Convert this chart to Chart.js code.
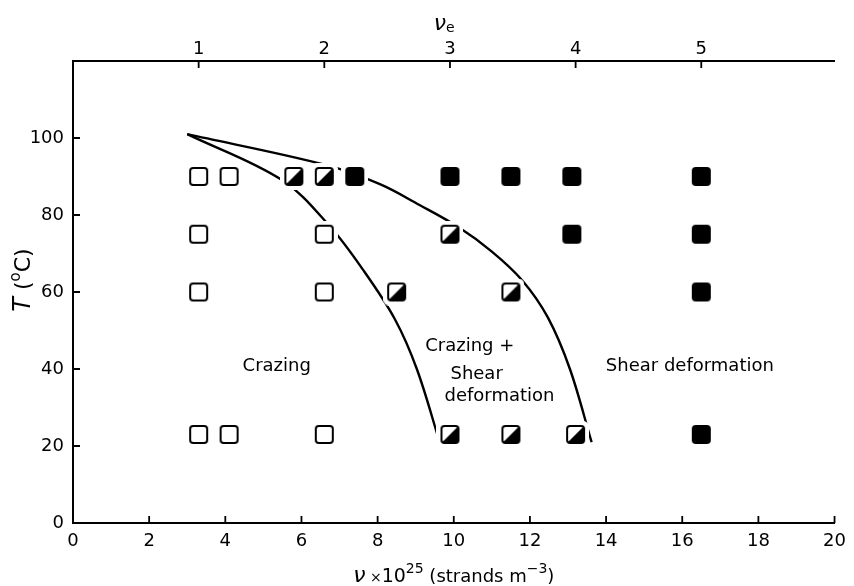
<!DOCTYPE html>
<html>
<head>
<meta charset="utf-8">
<script src="https://cdn.jsdelivr.net/npm/chart.js@4.4.1/dist/chart.umd.min.js"></script>
<style>
  html, body { margin: 0; padding: 0; background: #fff; }
  #wrap { width: 854px; height: 586px; }
</style>
</head>
<body>
<div id="wrap"><canvas id="chart"></canvas></div>
<script>
// open squares: crazing only
const crazingNu = [3.3, 4.1, 3.3, 6.6, 3.3, 6.6, 3.3, 4.1, 6.6];
const crazingT  = [90, 90, 75, 75, 60, 60, 23, 23, 23];
// half-filled squares: crazing + shear
const mixedNu = [5.8, 6.6, 9.9, 8.5, 11.5, 9.9, 11.5, 13.2];
const mixedT  = [90, 90, 75, 60, 60, 23, 23, 23];
// filled squares: shear deformation only
const shearNu = [7.4, 9.9, 11.5, 13.1, 16.5, 13.1, 16.5, 16.5, 16.5];
const shearT  = [90, 90, 90, 90, 90, 75, 75, 60, 23];

// boundary curves
const lowerNu = [3.0, 5.5, 6.75, 7.6, 8.45, 9.03, 9.63];
const lowerT  = [101, 89, 77, 66, 53, 40, 21];
const upperNu = [3.0, 6.64, 8.06, 9.1, 10.1, 11.0, 11.8, 12.47, 13.05, 13.62];
const upperT  = [101, 93, 88, 82.6, 77, 70.5, 63, 53.4, 40, 21];

// axes
const nuTicks  = [0, 2, 4, 6, 8, 10, 12, 14, 16, 18, 20];
const tTicks   = [0, 20, 40, 60, 80, 100];
const nueTicks = [1, 2, 3, 4, 5];
const nuPerNue = 3.3;   // nu (x10^25) per unit of nu_e

// region labels
const regionText = ['Crazing', 'Crazing +', 'Shear', 'deformation', 'Shear deformation'];
const regionNu   = [5.35, 10.42, 10.6, 11.2, 16.2];
const regionT    = [40.6, 45.8, 38.5, 32.8, 40.6];

const FONT = 'DejaVu Sans';
Chart.defaults.font.family = FONT;
Chart.defaults.font.size = 18;
Chart.defaults.color = '#000';

const toPts = (xs, ys) => xs.map((x, i) => ({ x: x, y: ys[i] }));

function rr(g, x, y, w, h, r) {
  g.beginPath();
  g.moveTo(x + r, y);
  g.arcTo(x + w, y, x + w, y + h, r);
  g.arcTo(x + w, y + h, x, y + h, r);
  g.arcTo(x, y + h, x, y, r);
  g.arcTo(x, y, x + w, y, r);
  g.closePath();
}

// square markers with a white halo so the curves break around them
function makeMarker(kind) {
  const size = 19, halo = 4, full = size + 2 * halo;
  const c = document.createElement('canvas');
  c.width = full; c.height = full;
  const g = c.getContext('2d');
  g.fillStyle = '#fff';
  rr(g, 0, 0, full, full, 6); g.fill();
  if (kind === 'filled') {
    g.fillStyle = '#000';
    rr(g, halo, halo, size, size, 4); g.fill();
    return c;
  }
  const x0 = halo + 1, y0 = halo + 1, s = size - 2;
  if (kind === 'half') {
    g.save();
    rr(g, x0, y0, s, s, 3); g.clip();
    g.fillStyle = '#000';
    g.beginPath();
    g.moveTo(x0, y0 + s); g.lineTo(x0 + s, y0 + s); g.lineTo(x0 + s, y0);
    g.closePath(); g.fill();
    g.restore();
  }
  g.strokeStyle = '#000';
  g.lineWidth = 2;
  rr(g, x0, y0, s, s, 3); g.stroke();
  return c;
}

function drawRich(ctx, parts, cx, baseY) {
  let total = 0;
  parts.forEach(p => { ctx.font = p.font; total += ctx.measureText(p.t).width; });
  let x = cx - total / 2;
  ctx.textAlign = 'left';
  ctx.textBaseline = 'alphabetic';
  parts.forEach(p => {
    ctx.font = p.font;
    ctx.fillText(p.t, x, baseY + (p.dy || 0));
    x += ctx.measureText(p.t).width;
  });
}

const decorations = {
  id: 'decorations',
  afterDraw(chart) {
    const ctx = chart.ctx;
    const { x, x2, y } = chart.scales;
    const a = chart.chartArea;
    ctx.save();
    ctx.strokeStyle = '#000';
    ctx.lineWidth = 1.8;
    ctx.beginPath();
    nuTicks.forEach(v => { const p = x.getPixelForValue(v); ctx.moveTo(p, a.bottom); ctx.lineTo(p, a.bottom - 7); });
    nueTicks.forEach(v => { const p = x2.getPixelForValue(v); ctx.moveTo(p, a.top); ctx.lineTo(p, a.top + 7); });
    tTicks.forEach(v => { const p = y.getPixelForValue(v); ctx.moveTo(a.left, p); ctx.lineTo(a.left + 7, p); });
    ctx.stroke();

    ctx.fillStyle = '#000';
    // region labels
    ctx.font = '18px "' + FONT + '"';
    ctx.textAlign = 'center';
    ctx.textBaseline = 'middle';
    regionText.forEach((t, i) => {
      ctx.fillText(t, x.getPixelForValue(regionNu[i]), y.getPixelForValue(regionT[i]));
    });

    // bottom axis title
    drawRich(ctx, [
      { t: '\u03bd', font: 'italic 22px "' + FONT + '"' },
      { t: ' \u00d7', font: '14px "' + FONT + '"' },
      { t: '10', font: '19px "' + FONT + '"' },
      { t: '25', font: '14px "' + FONT + '"', dy: -9 },
      { t: ' (strands m', font: '18px "' + FONT + '"' },
      { t: '\u22123', font: '14px "' + FONT + '"', dy: -9 },
      { t: ')', font: '18px "' + FONT + '"' }
    ], (a.left + a.right) / 2, a.bottom + 59);

    // top axis title
    drawRich(ctx, [
      { t: '\u03bd', font: 'italic 22px "' + FONT + '"' },
      { t: 'e', font: '14px "' + FONT + '"', dy: 2 }
    ], x.getPixelForValue(9.75), a.top - 31);

    // left axis title
    ctx.translate(30, 280);
    ctx.rotate(-Math.PI / 2);
    drawRich(ctx, [
      { t: 'T', font: 'italic 24px "' + FONT + '"' },
      { t: ' (', font: '22px "' + FONT + '"' },
      { t: 'o', font: '15px "' + FONT + '"', dy: -10 },
      { t: 'C)', font: '22px "' + FONT + '"' }
    ], 0, 0);
    ctx.restore();
  }
};

const axisBorder = { display: true, color: '#000', width: 2 };
const curveStyle = { showLine: true, pointRadius: 0, borderColor: '#000', borderWidth: 2.4, tension: 0.35, order: 2 };

new Chart(document.getElementById('chart'), {
  type: 'scatter',
  data: {
    datasets: [
      { label: 'Crazing', data: toPts(crazingNu, crazingT), pointStyle: makeMarker('open'), pointRadius: 9, order: 1 },
      { label: 'Crazing + shear', data: toPts(mixedNu, mixedT), pointStyle: makeMarker('half'), pointRadius: 9, order: 1 },
      { label: 'Shear deformation', data: toPts(shearNu, shearT), pointStyle: makeMarker('filled'), pointRadius: 9, order: 1 },
      Object.assign({ label: 'lower boundary', data: toPts(lowerNu, lowerT) }, curveStyle),
      Object.assign({ label: 'upper boundary', data: toPts(upperNu, upperT) }, curveStyle)
    ]
  },
  options: {
    responsive: true,
    maintainAspectRatio: false,
    animation: false,
    devicePixelRatio: 1,
    layout: { padding: { left: 0, right: 19, top: 0, bottom: 0 } },
    plugins: { legend: { display: false }, tooltip: { enabled: false } },
    scales: {
      x: {
        type: 'linear', position: 'bottom', min: 0, max: 20,
        afterBuildTicks: s => { s.ticks = nuTicks.map(v => ({ value: v })); },
        ticks: { padding: 8, autoSkip: false, maxRotation: 0 },
        grid: { display: false, drawTicks: false },
        border: axisBorder,
        afterFit: s => { s.height = 63; }
      },
      x2: {
        type: 'linear', axis: 'x', position: 'top', min: 0, max: 20 / nuPerNue,
        afterBuildTicks: s => { s.ticks = nueTicks.map(v => ({ value: v })); },
        ticks: { padding: 1, autoSkip: false, maxRotation: 0 },
        grid: { display: false, drawTicks: false },
        border: axisBorder,
        afterFit: s => { s.height = 61; }
      },
      y: {
        type: 'linear', position: 'left', min: 0, max: 120,
        afterBuildTicks: s => { s.ticks = tTicks.map(v => ({ value: v })); },
        ticks: { padding: 9, autoSkip: false },
        grid: { display: false, drawTicks: false },
        border: axisBorder,
        afterFit: s => { s.width = 73; }
      }
    }
  },
  plugins: [decorations]
});
</script>
</body>
</html>
